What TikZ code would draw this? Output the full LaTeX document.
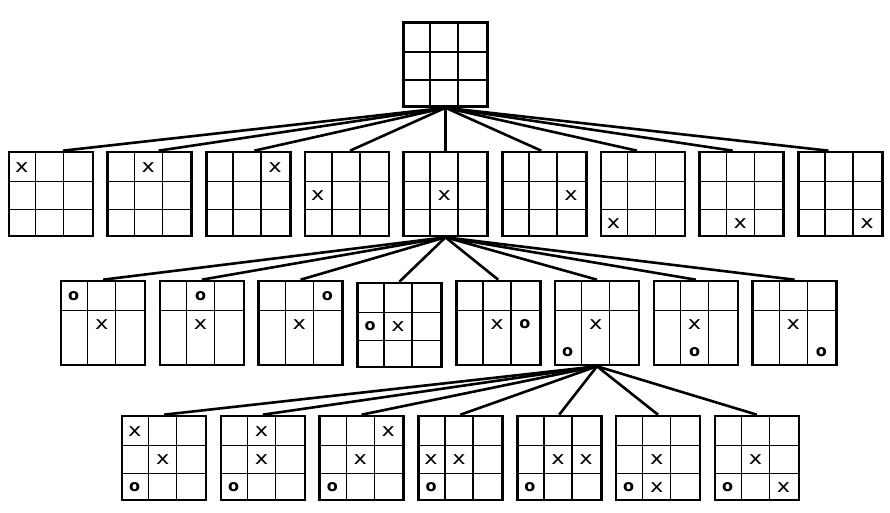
\documentclass[tikz,border=0pt]{standalone}
\usepackage{fontspec}
\setmainfont{DejaVu Sans}
\usepackage{graphicx}
\usetikzlibrary{calc}

\tikzset{
  board/.style={draw, line width=2.6pt, minimum size=84pt, inner sep=0pt, fill=white},
  gridline/.style={line width=1.5pt},
  link/.style={line width=2.6pt},
  cellmark/.style={inner sep=0pt, font=\fontsize{18}{18}\selectfont}
}

% marks
\newcommand{\xm}{\scalebox{1.25}[1]{x}}
\newcommand{\om}{{\fontsize{16}{16}\selectfont\bfseries o}}

% #1 name, #2 centre, #3 heights of the horizontal lines, #4 marks col/row/symbol
\newcommand{\tttboard}[4]{%
  \node[board] (#1) at (#2) {};
  \begin{scope}[shift={(#1.south west)}]
    \foreach \v in {28,56} \draw[gridline] (\v,0) -- (\v,84);
    \foreach \h in {#3} \draw[gridline] (0,\h) -- (84,\h);
    \if\relax\detokenize{#4}\relax\else
      \foreach \c/\r/\m in {#4}
        \node[cellmark] (#1-\c\r) at ({(\c-0.5)*28},{84-(\r-0.5)*28}) {\m};
    \fi
  \end{scope}
}

\begin{document}
\begin{tikzpicture}[x=1pt, y=1pt]
  \useasboundingbox (0,0) rectangle (890,513);

  % Empty board
  \tttboard{root}{445.5,448.5}{28,56}{}

  % First move
  \tttboard{a1}{51,319}{28,56}{1/1/\xm}
  \tttboard{a2}{149.7,319}{28,56}{2/1/\xm}
  \tttboard{a3}{248.4,319}{28,56}{3/1/\xm}
  \tttboard{a4}{347.1,319}{28,56}{1/2/\xm}
  \tttboard{a5}{445.5,319}{28,56}{2/2/\xm}
  \tttboard{a6}{544.2,319}{28,56}{3/2/\xm}
  \tttboard{a7}{642.9,319}{28,56}{1/3/\xm}
  \tttboard{a8}{741.6,319}{28,56}{2/3/\xm}
  \tttboard{a9}{840.3,319}{28,56}{3/3/\xm}

  % Replies to the centre move
  \tttboard{b1}{103,190}{56}{2/2/\xm, 1/1/\om}
  \tttboard{b2}{201.8,190}{56}{2/2/\xm, 2/1/\om}
  \tttboard{b3}{300.6,190}{56}{2/2/\xm, 3/1/\om}
  \tttboard{b4}{399.4,188}{28,56}{2/2/\xm, 1/2/\om}
  \tttboard{b5}{498.2,190}{56}{2/2/\xm, 3/2/\om}
  \tttboard{b6}{597,190}{56}{2/2/\xm, 1/3/\om}
  \tttboard{b7}{695.8,190}{56}{2/2/\xm, 2/3/\om}
  \tttboard{b8}{794.6,190}{56}{2/2/\xm, 3/3/\om}

  % Second move after o in the corner
  \tttboard{c1}{164,55}{28,56}{2/2/\xm, 1/3/\om, 1/1/\xm}
  \tttboard{c2}{262.8,55}{28,56}{2/2/\xm, 1/3/\om, 2/1/\xm}
  \tttboard{c3}{361.6,55}{28,56}{2/2/\xm, 1/3/\om, 3/1/\xm}
  \tttboard{c4}{460.4,55}{28,56}{2/2/\xm, 1/3/\om, 1/2/\xm}
  \tttboard{c5}{559.2,55}{28,56}{2/2/\xm, 1/3/\om, 3/2/\xm}
  \tttboard{c6}{658,55}{28,56}{2/2/\xm, 1/3/\om, 2/3/\xm}
  \tttboard{c7}{756.8,55}{28,56}{2/2/\xm, 1/3/\om, 3/3/\xm}

  % Links
  \foreach \i in {1,...,9}
    \draw[link] (root.south) -- ($(a\i.north)!0.03!(root.south |- a\i.north)$);
  \foreach \i in {1,...,8}
    \draw[link] (a5.south) -- (b\i.north);
  \foreach \i in {1,...,7}
    \draw[link] (b6.south) -- (c\i.north);
\end{tikzpicture}
\end{document}
